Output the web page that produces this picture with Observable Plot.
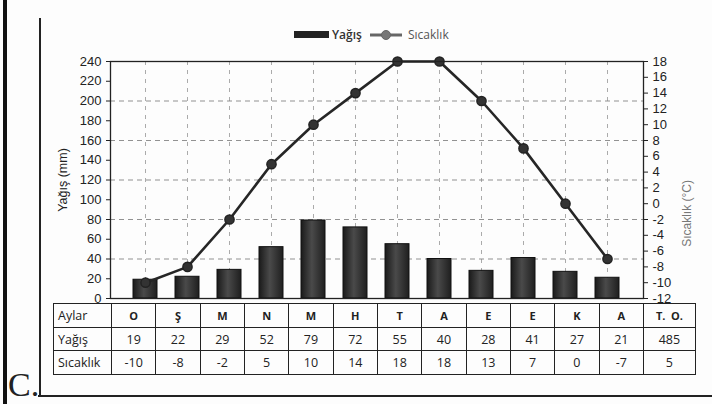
<!DOCTYPE html>
<html>
<head>
<meta charset="utf-8">
<script src="https://cdn.jsdelivr.net/npm/d3@7"></script>
<script src="https://cdn.jsdelivr.net/npm/@observablehq/plot@0.6"></script>
<style>
  html, body { margin: 0; padding: 0; background: #fff; }
  #wrap { position: relative; width: 712px; height: 404px; overflow: hidden; background: #fdfdfd; }
  #chart { position: absolute; left: 0; top: 0; }
  .abs { position: absolute; }
  #legend { position: absolute; left: 290px; top: 24px; font-family: "Open Sans", sans-serif; font-size: 12px; }
  table.dt { position: absolute; left: 53px; top: 303px; border-collapse: collapse; font-family: "Open Sans", sans-serif; font-size: 12.5px; color: #222; table-layout: fixed; }
  table.dt td { border: 1.5px solid #222; text-align: center; padding: 0; }
  table.dt td.h { text-align: left; padding-left: 4px; }
  table.dt tr.m td { font-weight: bold; font-size: 11px; }
</style>
</head>
<body>
<div id="wrap">
  <div class="abs" style="left:3px;top:0;width:4px;height:404px;background:#111;"></div>
  <div class="abs" style="left:39px;top:18px;width:1.5px;height:378px;background:#222;"></div>
  <div class="abs" style="left:38px;top:395px;width:674px;height:2px;background:#222;"></div>
  <div class="abs" style="left:8px;top:368px;font-family:'Liberation Serif',serif;font-size:34px;color:#222;line-height:34px;">C.</div>
  <div id="chart"></div>
  <svg id="legend" width="160" height="20">
    <rect x="4" y="7" width="35" height="7" fill="#222"></rect>
    <text x="42" y="15" fill="#333" font-weight="600">Yağış</text>
    <line x1="80" y1="11" x2="112" y2="11" stroke="#666" stroke-width="3"></line>
    <circle cx="96" cy="11" r="4.5" fill="#777" stroke="#666"></circle>
    <text x="118" y="15" fill="#555">Sıcaklık</text>
  </svg>
  <table class="dt" id="tbl"></table>
</div>
<script>
const months = ["O", "Ş", "M", "N", "M", "H", "T", "A", "E", "E", "K", "A"];
const rain = [19, 22, 29, 52, 79, 72, 55, 40, 28, 41, 27, 21];
const temp = [-10, -8, -2, 5, 10, 14, 18, 18, 13, 7, 0, -7];
const rainTicks = [0, 20, 40, 60, 80, 100, 120, 140, 160, 180, 200, 220, 240];
const tempTicks = [-12, -10, -8, -6, -4, -2, 0, 2, 4, 6, 8, 10, 12, 14, 16, 18];
const totalRain = 485;
const meanTemp = 5;

const data = months.map((m, i) => ({i, m, rain: rain[i], temp: temp[i]}));
const t2y = t => (t + 12) * 8;

const plot = Plot.plot({
  width: 712,
  height: 404,
  marginTop: 61,
  marginBottom: 106,
  marginLeft: 110,
  marginRight: 69,
  style: {background: "transparent", fontFamily: "'Liberation Sans', Arial, sans-serif"},
  x: {type: "band", domain: d3.range(12), padding: 0.42, axis: null},
  y: {domain: [0, 240]},
  marks: [
    Plot.gridY([40, 80, 120, 160, 200], {stroke: "#777", strokeOpacity: 0.8, strokeDasharray: "5,4"}),
    Plot.gridX(d3.range(12), {stroke: "#888", strokeOpacity: 0.7, strokeDasharray: "4,5"}),
    Plot.barY(data, {x: "i", y: "rain", fill: "url(#barGrad)", stroke: "#111", strokeWidth: 1}),
    Plot.lineY(data, {x: "i", y: d => t2y(d.temp), stroke: "#262626", strokeWidth: 2.6}),
    Plot.dot(data, {x: "i", y: d => t2y(d.temp), r: 4.6, fill: "#333", stroke: "#222"}),
    Plot.axisY({anchor: "left", ticks: rainTicks, tickSize: 4, fontSize: 13, color: "#222",
      label: "Yağış (mm)", labelAnchor: "center", labelArrow: "none", labelOffset: 52}),
    Plot.axisY({anchor: "right", ticks: tempTicks.map(t2y), tickFormat: d => String(d / 8 - 12), tickSize: 4,
      fontSize: 13, color: "#222", label: null}),
    Plot.text(["Sıcaklık (°C)"], {frameAnchor: "right", dx: 44, rotate: -90, fill: "#777", fontSize: 12}),
    Plot.frame({stroke: "#222", strokeWidth: 1.3})
  ]
});

const svg = d3.select(plot);
const defs = svg.insert("defs", ":first-child");
const g = defs.append("linearGradient").attr("id", "barGrad").attr("x1", "0").attr("x2", "1").attr("y1", "0").attr("y2", "0");
g.append("stop").attr("offset", "0%").attr("stop-color", "#1a1a1a");
g.append("stop").attr("offset", "45%").attr("stop-color", "#4a4a4a");
g.append("stop").attr("offset", "100%").attr("stop-color", "#1f1f1f");
svg.selectAll("[aria-label='y-axis label'] text, [aria-label='y-axis label']").attr("font-size", 12.5).attr("fill", "#222");
document.getElementById("chart").appendChild(plot);

// data table
const tbl = document.getElementById("tbl");
const colW = (643 - 111) / 12;
let cg = "<colgroup><col style='width:58px'>" + months.map(() => `<col style='width:${colW}px'>`).join("") + "<col style='width:52px'></colgroup>";
const row = (cls, label, vals, last, h) =>
  `<tr class="${cls}" style="height:${h}px"><td class="h">${label}</td>` + vals.map(v => `<td>${v}</td>`).join("") + `<td>${last}</td></tr>`;
tbl.innerHTML = cg +
  row("m", "<span style='font-weight:normal;font-size:12.5px'>Aylar</span>", months, "T.&nbsp;&nbsp;O.", 24) +
  row("", "Yağış", rain, totalRain, 23) +
  row("", "Sıcaklık", temp, meanTemp, 24);
</script>
</body>
</html>
